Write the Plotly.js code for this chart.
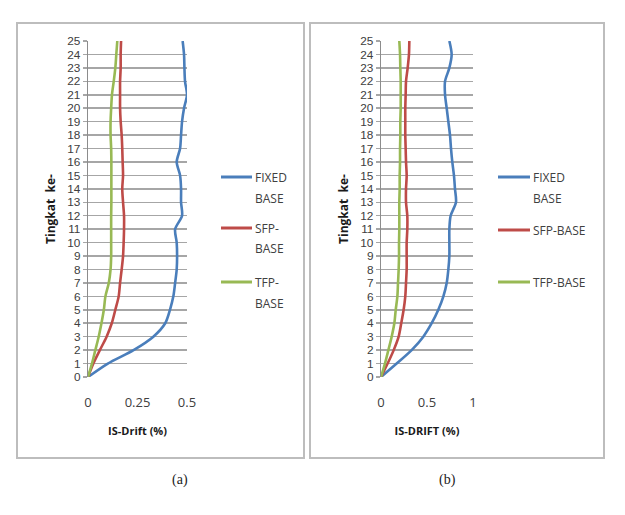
<!DOCTYPE html>
<html>
<head>
<meta charset="utf-8">
<script src="https://cdn.plot.ly/plotly-3.0.1.min.js"></script>
<style>
  html, body { margin: 0; padding: 0; background: #fff; }
  #chart { width: 625px; height: 515px; }
</style>
</head>
<body>
<div id="chart"></div>
<script>
// Storey levels (Tingkat ke-)
const stories = [0,1,2,3,4,5,6,7,8,9,10,11,12,13,14,15,16,17,18,19,20,21,22,23,24,25];

// Panel (a): inter-storey drift (%)
const fixedA = [0,0.10,0.23,0.33,0.39,0.414,0.431,0.44,0.448,0.45,0.448,0.44,0.475,0.47,0.47,0.465,0.448,0.465,0.47,0.475,0.485,0.50,0.49,0.487,0.485,0.478];
const sfpA   = [0,0.027,0.06,0.094,0.12,0.138,0.155,0.162,0.17,0.177,0.18,0.182,0.182,0.177,0.173,0.177,0.175,0.173,0.17,0.165,0.162,0.162,0.162,0.165,0.165,0.167];
const tfpA   = [0,0.02,0.037,0.054,0.068,0.08,0.088,0.105,0.114,0.117,0.117,0.117,0.117,0.118,0.118,0.118,0.118,0.117,0.114,0.114,0.117,0.121,0.13,0.138,0.143,0.148];

// Panel (b): inter-storey drift (%)
const fixedB = [0,0.17,0.333,0.46,0.551,0.623,0.678,0.714,0.732,0.743,0.743,0.743,0.757,0.815,0.804,0.793,0.775,0.761,0.75,0.732,0.714,0.696,0.696,0.743,0.768,0.743];
const sfpB   = [0,0.072,0.138,0.192,0.22,0.246,0.264,0.272,0.279,0.279,0.279,0.286,0.286,0.272,0.272,0.279,0.272,0.268,0.264,0.264,0.264,0.268,0.272,0.29,0.304,0.308];
const tfpB   = [0,0.043,0.08,0.116,0.145,0.16,0.178,0.185,0.192,0.196,0.196,0.199,0.199,0.199,0.203,0.203,0.207,0.207,0.21,0.21,0.214,0.214,0.214,0.21,0.207,0.199];

// Series labels as wrapped in each panel's legend
const legendA = [["FIXED","BASE"],["SFP-","BASE"],["TFP-","BASE"]];
const legendB = [["FIXED","BASE"],["SFP-BASE"],["TFP-BASE"]];
const xTicksA = [0,0.25,0.5];
const xTicksB = [0,0.5,1];
const xTitleA = "IS-Drift (%)";
const xTitleB = "IS-DRIFT (%)";
const yTitle = "Tingkat  ke-";
const panelLabels = ["(a)","(b)"];

const colors = ["#4A7EBB","#BE4B48","#98B954"];
const W = 625, H = 515;
const px = x => x / W;
const py = y => 1 - y / H;

function series(xs, xa, ya, color) {
  return {
    x: xs, y: stories, xaxis: xa, yaxis: ya, type: "scatter", mode: "lines",
    line: {color: color, width: 2.6, shape: "spline", smoothing: 0.8},
    showlegend: false, hoverinfo: "skip"
  };
}

const data = [
  series(fixedA, "x", "y", colors[0]),
  series(sfpA, "x", "y", colors[1]),
  series(tfpA, "x", "y", colors[2]),
  series(fixedB, "x2", "y2", colors[0]),
  series(sfpB, "x2", "y2", colors[1]),
  series(tfpB, "x2", "y2", colors[2])
];

const xTickFont = {family: "Open Sans, sans-serif", size: 13, color: "#404040"};
// compact face so the 26 storey labels stack without colliding
const yTickFont = {family: "Liberation Sans Narrow, Liberation Sans, sans-serif", size: 11.8, color: "#404040"};
const titleFont = {family: "Open Sans, sans-serif", size: 11, color: "#1a1a1a", weight: "bold"};

function xAxis(domain, range, ticks, title) {
  return {
    domain: domain, range: range, tickvals: ticks, ticktext: ticks.map(String),
    showgrid: false, zeroline: false, showline: false, ticks: "",
    ticklabelstandoff: 16, tickfont: xTickFont,
    title: {text: title, font: titleFont, standoff: 17}, fixedrange: true
  };
}
function yAxis(domain, anchor) {
  return {
    domain: domain, range: [0, 25], dtick: 1, tick0: 0, anchor: anchor,
    showgrid: true, gridcolor: "#a6a6a6", gridwidth: 1.5,
    zeroline: false, showline: true, linecolor: "#8c8c8c", linewidth: 1.2,
    ticks: "outside", ticklen: 4, tickcolor: "#a6a6a6", tickwidth: 1.5,
    tickfont: yTickFont,
    title: {text: yTitle, font: {family: "Open Sans, sans-serif", size: 12, color: "#1a1a1a", weight: "bold"}, standoff: 9},
    fixedrange: true
  };
}

const yDomain = [py(377), py(41)];

const shapes = [
  // panel frames
  {type: "rect", xref: "paper", yref: "paper", x0: px(17), x1: px(304), y0: py(458), y1: py(23), line: {color: "#bdbdbd", width: 2}},
  {type: "rect", xref: "paper", yref: "paper", x0: px(310), x1: px(604), y0: py(458), y1: py(23), line: {color: "#bdbdbd", width: 2}}
];
const annotations = [];

// legend keys for both panels
function addLegend(labels, lineX0, lineX1, rowYs) {
  labels.forEach((lines, i) => {
    const y0 = rowYs[i];
    shapes.push({type: "line", xref: "paper", yref: "paper", x0: px(lineX0), x1: px(lineX1), y0: py(y0), y1: py(y0),
                 line: {color: colors[i], width: 3}});
    lines.forEach((t, j) => {
      annotations.push({xref: "paper", yref: "paper", x: px(lineX1 + 1), y: py(y0 + j * 21),
        xanchor: "left", yanchor: "middle", showarrow: false, text: t,
        font: {family: "Open Sans, sans-serif", size: 12, color: "#404040"}});
    });
  });
}
addLegend(legendA, 221, 252, [177, 228, 282]);
addLegend(legendB, 498, 530, [177, 230, 282]);

annotations.push({xref: "paper", yref: "paper", x: px(170), y: py(490), showarrow: false, text: panelLabels[0],
  font: {family: "Liberation Serif, serif", size: 14, color: "#222"}});
annotations.push({xref: "paper", yref: "paper", x: px(458), y: py(490), showarrow: false, text: panelLabels[1],
  font: {family: "Liberation Serif, serif", size: 14, color: "#222"}});

const layout = {
  width: W, height: H,
  margin: {l: 0, r: 0, t: 0, b: 0},
  paper_bgcolor: "#fff", plot_bgcolor: "#fff",
  showlegend: false,
  xaxis: Object.assign(xAxis([px(88), px(187)], [0, 0.5], xTicksA, xTitleA), {anchor: "y"}),
  yaxis: yAxis(yDomain, "x"),
  xaxis2: Object.assign(xAxis([px(381), px(473)], [0, 1], xTicksB, xTitleB), {anchor: "y2"}),
  yaxis2: yAxis(yDomain, "x2"),
  shapes: shapes,
  annotations: annotations
};

Plotly.newPlot("chart", data, layout, {staticPlot: true, displayModeBar: false});
</script>
</body>
</html>
